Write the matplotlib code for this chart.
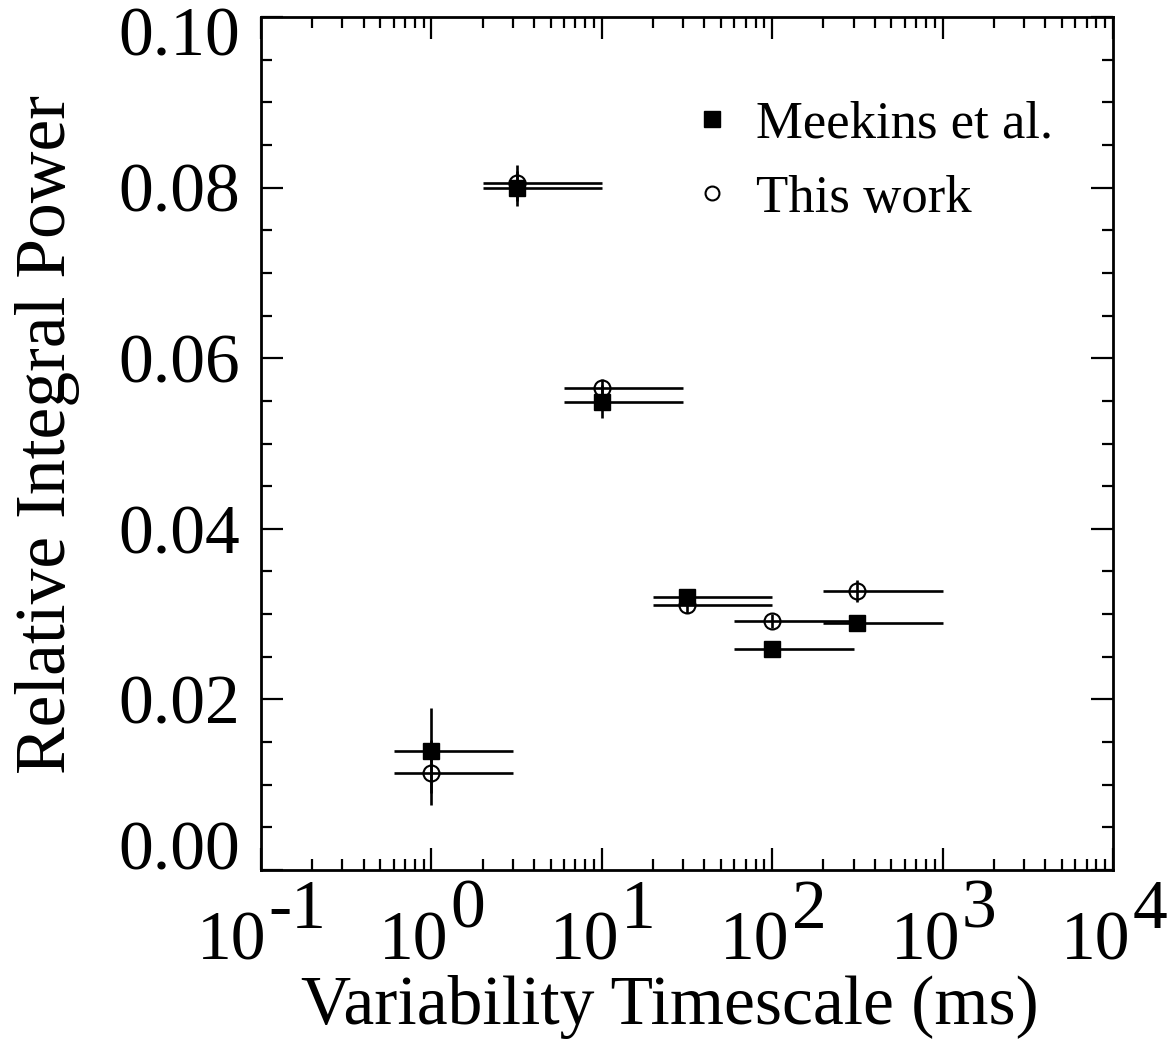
import matplotlib
matplotlib.use('Agg')
import matplotlib.pyplot as plt
import matplotlib.transforms as mtransforms
from matplotlib.ticker import FixedLocator, NullFormatter, MultipleLocator, FuncFormatter
import numpy as np

plt.rcParams['font.family'] = ['Liberation Serif', 'DejaVu Serif']

# timescales (ms) and their bin edges
t_center = [1.0, 3.16, 10.0, 31.6, 100.0, 316.0]
t_low = [0.6, 2.0, 6.0, 20.0, 60.0, 200.0]
t_high = [3.0, 10.0, 30.0, 100.0, 300.0, 1000.0]

# Meekins et al.
meekins_y = [0.0140, 0.0799, 0.0549, 0.0320, 0.0259, 0.0290]
meekins_err = [0.0050, 0.0020, 0.0019, 0.0008, 0.0007, 0.0007]

# this work
this_y = [0.0114, 0.0805, 0.0565, 0.0311, 0.0292, 0.0327]
this_err = [0.0038, 0.0021, 0.0011, 0.0010, 0.0008, 0.0013]

xticks = [1e-1, 1e0, 1e1, 1e2, 1e3, 1e4]
yticks = [0.00, 0.02, 0.04, 0.06, 0.08, 0.10]

x = np.array(t_center)
xerr = [x - np.array(t_low), np.array(t_high) - x]

fig = plt.figure(figsize=(11.70, 10.49), dpi=100)
ax = fig.add_axes([261 / 1170, 1 - 870 / 1049, 852 / 1170, 853 / 1049])

ax.errorbar(x, meekins_y, xerr=xerr, yerr=meekins_err, fmt='none',
            ecolor='black', elinewidth=1.9, capsize=0)
ax.errorbar(x, this_y, xerr=xerr, yerr=this_err, fmt='none',
            ecolor='black', elinewidth=1.9, capsize=0)
ax.plot(x, meekins_y, 's', color='black', ms=11, label='Meekins et al.')
ax.plot(x, this_y, 'o', mfc='none', mec='black', mew=1.5, ms=11.5, label='This work')

ax.set_xscale('log')
ax.set_xlim(0.1, 1e4)
ax.set_ylim(0.0, 0.10)

ax.xaxis.set_major_locator(FixedLocator(xticks))
minors = [m * 10.0 ** e for e in range(-1, 4) for m in range(2, 10)]
ax.xaxis.set_minor_locator(FixedLocator(minors))
ax.xaxis.set_major_formatter(NullFormatter())
ax.xaxis.set_minor_formatter(NullFormatter())

ax.yaxis.set_major_locator(FixedLocator(yticks))
ax.yaxis.set_minor_locator(MultipleLocator(0.005))
ax.yaxis.set_major_formatter(FuncFormatter(lambda v, p: '%.2f' % v))

ax.tick_params(which='both', direction='in', top=True, right=True, width=1.6)
ax.tick_params(which='major', length=16, labelsize=50, pad=15)
ax.tick_params(which='minor', length=8)
for s in ax.spines.values():
    s.set_linewidth(2.0)

# x tick labels: "10" with a full-size raised exponent, like the original
fig.canvas.draw()
renderer = fig.canvas.get_renderer()
trans = ax.get_xaxis_transform()
for v in xticks:
    e = int(round(np.log10(v)))
    base = ax.annotate('10', xy=(v, 0), xycoords=trans, xytext=(0, -90),
                       textcoords='offset pixels', ha='right', va='baseline',
                       fontsize=50, annotation_clip=False)
    expo = ax.annotate(str(e), xy=(v, 0), xycoords=trans,
                       xytext=(0, -58), textcoords='offset pixels', ha='left',
                       va='baseline', fontsize=50, annotation_clip=False)
    wb = base.get_window_extent(renderer).width
    we = expo.get_window_extent(renderer).width
    shift = (wb - we) / 2
    base.xyann = (shift, -90)
    expo.xyann = (shift + 2, -58)

ax.set_xlabel('Variability Timescale (ms)', fontsize=50)
ax.xaxis.set_label_coords(0.48, -0.18)
ax.xaxis.label.set_va('baseline')
ax.set_ylabel('Relative Integral Power', fontsize=51.5)
ax.yaxis.set_label_coords(-0.251, 0.51)
ax.yaxis.label.set_va('center')

# end labels sit inside the axis range, as in the original
ylabels = ax.get_yticklabels()
ylabels[0].set_va('baseline')
ylabels[-1].set_va('top')
up = mtransforms.ScaledTranslation(0, 10 / 100, fig.dpi_scale_trans)
ylabels[-1].set_transform(ylabels[-1].get_transform() + up)

leg = ax.legend(loc='upper right', fontsize=38, frameon=False, handlelength=0.6,
                handletextpad=0.55, borderaxespad=0.0, labelspacing=0.5,
                bbox_to_anchor=(0.955, 0.927))
leg.legend_handles[0].set_markersize(11)
leg.legend_handles[1].set_markersize(10)

fig.savefig('out.png', dpi=100)
